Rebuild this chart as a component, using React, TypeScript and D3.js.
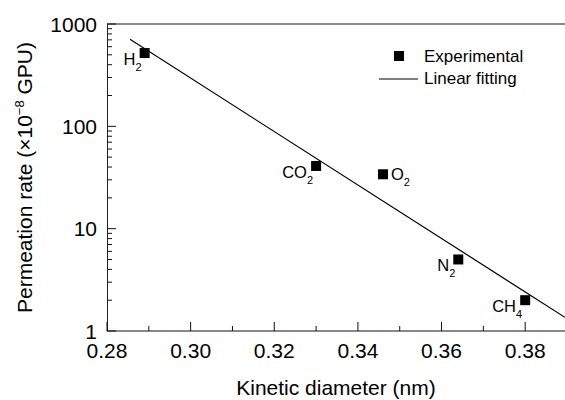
import React from "react";
import * as d3 from "d3";

// gas labels: base text + subscript
const gasBase = ["H", "CO", "O", "N", "CH"];
const gasSub = ["2", "2", "2", "2", "4"];
const labelSide = ["left", "left", "right", "left", "left"];

// kinetic diameter (nm) vs permeation rate (1e-8 GPU)
const diameters = [0.289, 0.33, 0.346, 0.364, 0.38];
const permeation = [520, 41, 34, 5.0, 2.0];

// linear fitting end points
const fitX = [0.2855, 0.3895];
const fitY = [708, 1.36];

const xMajorTicks = [0.28, 0.3, 0.32, 0.34, 0.36, 0.38];
const xMinorTicks = [0.29, 0.31, 0.33, 0.35, 0.37];
const yMajorTicks = [1, 10, 100, 1000];
const yTickLabels = ["1", "10", "100", "1000"];

const W = 565;
const H = 400;
const left = 107;
const top = 24;
const bottom = 331;
const font = "'Liberation Sans', Arial, sans-serif";

const App = () => {
  const x = d3.scaleLinear().domain([0.28, 0.39]).range([left, 567]);
  const y = d3.scaleLog().domain([1, 1000]).range([bottom, top]);

  const yMinor = y.ticks().filter((t) => !yMajorTicks.includes(t));

  const fitLine = d3
    .line<number>()
    .x((d) => x(d))
    .y((_, i) => y(fitY[i]));

  return (
    <svg
      width={W}
      height={H}
      style={{ position: "absolute", left: 0, top: 0, background: "#fff" }}
      fontFamily={font}
    >
      {/* frame */}
      <line x1={left} x2={W} y1={top} y2={top} stroke="#888" strokeWidth={2} />
      <line x1={left} x2={W} y1={bottom} y2={bottom} stroke="#888" strokeWidth={2} />
      <line x1={left + 0.5} x2={left + 0.5} y1={top} y2={bottom} stroke="#222" strokeWidth={1} />

      {/* x ticks */}
      {xMajorTicks.map((t) => (
        <g key={"xM" + t}>
          <line x1={x(t)} x2={x(t)} y1={bottom} y2={bottom - 9} stroke="#111" />
          <text x={x(t)} y={358} textAnchor="middle" fontSize={21}>
            {d3.format(".2f")(t)}
          </text>
        </g>
      ))}
      {xMinorTicks.map((t) => (
        <line key={"xm" + t} x1={x(t)} x2={x(t)} y1={bottom} y2={bottom - 5} stroke="#111" />
      ))}

      {/* y ticks */}
      {yMajorTicks.map((t, i) => (
        <g key={"yM" + t}>
          <line x1={left} x2={left + 9} y1={y(t)} y2={y(t)} stroke="#111" />
          <text x={97} y={y(t)} dy="0.36em" textAnchor="end" fontSize={21}>
            {yTickLabels[i]}
          </text>
        </g>
      ))}
      {yMinor.map((t) => (
        <line key={"ym" + t} x1={left} x2={left + 5} y1={y(t)} y2={y(t)} stroke="#111" />
      ))}

      {/* fit line */}
      <path d={fitLine(fitX) || ""} fill="none" stroke="#000" strokeWidth={1.2} />

      {/* points */}
      {diameters.map((d, i) => (
        <rect
          key={"p" + i}
          x={x(d) - 5}
          y={y(permeation[i]) - 5}
          width={10}
          height={10}
          fill="#000"
        />
      ))}

      {/* point labels */}
      {diameters.map((d, i) => {
        const right = labelSide[i] === "right";
        return (
          <text
            key={"l" + i}
            x={right ? x(d) + 8 : x(d) - 3}
            y={y(permeation[i]) + (right ? 6 : 12)}
            textAnchor={right ? "start" : "end"}
            fontSize={16.5}
          >
            {gasBase[i]}
            <tspan dy={6} fontSize={11}>
              {gasSub[i]}
            </tspan>
          </text>
        );
      })}

      {/* legend */}
      <rect x={394} y={51} width={10} height={10} fill="#000" />
      <text x={424} y={62} fontSize={17}>
        Experimental
      </text>
      <line x1={379} x2={418} y1={79} y2={79} stroke="#000" strokeWidth={1.2} />
      <text x={424} y={84} fontSize={17}>
        Linear fitting
      </text>

      {/* axis titles */}
      <text x={(left + W) / 2} y={395} textAnchor="middle" fontSize={21}>
        Kinetic diameter (nm)
      </text>
      <text
        transform={`translate(32, ${(top + bottom) / 2}) rotate(-90)`}
        textAnchor="middle"
        fontSize={21}
      >
        Permeation rate (×10
        <tspan dy={-8} fontSize={13}>
          −8
        </tspan>
        <tspan dy={8}> GPU)</tspan>
      </text>
    </svg>
  );
};

export default App;
